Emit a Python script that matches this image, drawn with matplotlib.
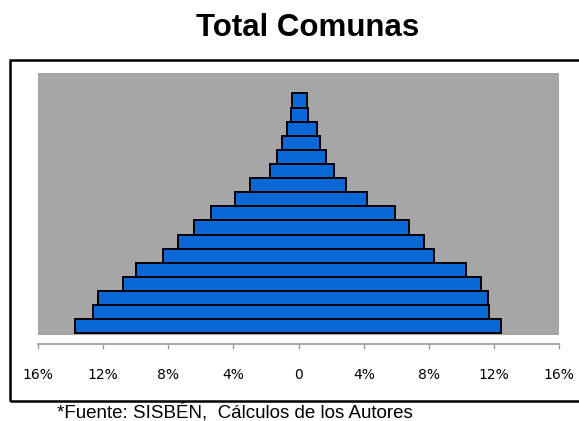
import matplotlib
matplotlib.use("Agg")
import matplotlib.pyplot as plt
from matplotlib.patches import Rectangle

# Data (percent of population), ordered from youngest (bottom) to oldest (top)
age_groups = ["0-4", "5-9", "10-14", "15-19", "20-24", "25-29", "30-34", "35-39",
              "40-44", "45-49", "50-54", "55-59", "60-64", "65-69", "70-74", "75-79", "80+"]
left_pct = [13.7, 12.6, 12.3, 10.8, 10.0, 8.3, 7.4, 6.4, 5.4, 3.9, 3.0, 1.75, 1.35, 1.0, 0.7, 0.5, 0.4]
right_pct = [12.4, 11.7, 11.6, 11.2, 10.3, 8.3, 7.7, 6.8, 5.9, 4.2, 2.9, 2.2, 1.7, 1.3, 1.1, 0.6, 0.5]
tick_values = [-16, -12, -8, -4, 0, 4, 8, 12, 16]
tick_labels = ["16%", "12%", "8%", "4%", "0", "4%", "8%", "12%", "16%"]
title = "Total Comunas"
source = "*Fuente: SISBÉN,  Cálculos de los Autores"

W, H = 579, 421
fig = plt.figure(figsize=(W / 100, H / 100), dpi=100)
fig.patch.set_facecolor("white")

ax = fig.add_axes([38 / W, (H - 335) / H, 521.3 / W, 261.7 / H])
ax.set_facecolor("#A6A6A6")

ypos = list(range(len(age_groups)))
widths = [l + r for l, r in zip(left_pct, right_pct)]
starts = [-l for l in left_pct]
ax.barh(ypos, widths, left=starts, height=1.0, color="#0A68D6",
        edgecolor="black", linewidth=1.4, zorder=3)

ax.set_xlim(-16, 16)
ax.set_ylim(-0.62, 17.93)
ax.set_yticks([])
ax.set_xticks(tick_values)
ax.set_xticklabels(tick_labels, fontsize=10, color="#454545", family="DejaVu Sans")
ax.tick_params(axis="x", direction="out", length=3.5, width=1, color="#9A9A9A", pad=13.5)

for s in ["left", "right", "top"]:
    ax.spines[s].set_visible(False)
ax.spines["bottom"].set_position(("outward", 6.5))
ax.spines["bottom"].set_color("#9A9A9A")
ax.spines["bottom"].set_linewidth(1.2)

# outer frame
frame = Rectangle((10 / W, (H - 401) / H), 0.99, (401 - 59.5) / H,
                  transform=fig.transFigure, fill=False, edgecolor="black",
                  linewidth=1.8, clip_on=False)
fig.add_artist(frame)

fig.text(307.5 / W, (H - 36.5) / H, title, ha="center", va="baseline",
         fontsize=22.5, fontweight="bold", family="Liberation Sans", color="black")
fig.text(57 / W, (H - 418) / H, source, ha="left", va="baseline",
         fontsize=13.5, family="Liberation Sans", color="black")

fig.savefig("out.png", dpi=100)
